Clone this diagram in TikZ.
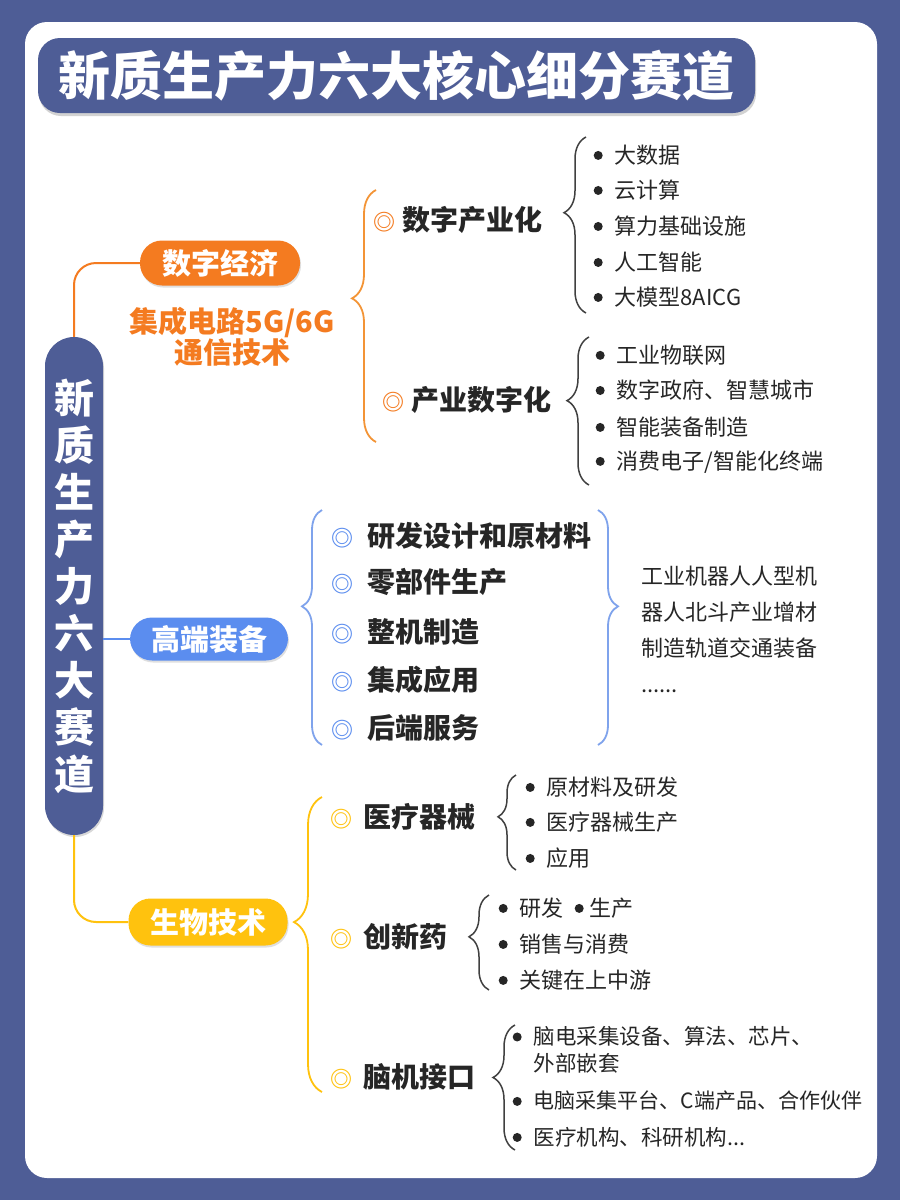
\documentclass[tikz,border=0pt]{standalone}
\usepackage{fontspec}
\setmainfont{Noto Sans CJK SC}
\usepackage{xcolor}
\usetikzlibrary{positioning,decorations.pathreplacing,shadows}

\definecolor{bgblue}{HTML}{4E5D96}
\definecolor{ecoorange}{HTML}{F47B20}
\definecolor{ecobrace}{HTML}{F39436}
\definecolor{hiblue}{HTML}{5B8DEF}
\definecolor{hibrace}{HTML}{7FA3EC}
\definecolor{bioyellow}{HTML}{FFC20E}
\definecolor{txt}{HTML}{262626}
\definecolor{darkbrace}{HTML}{404040}

\newcommand\bul[1][12pt]{\tikz[baseline={(0pt,-0.36em)}]\fill[txt] (0pt,0pt) circle (4.5pt);\hspace{#1}}
\newcommand\ring[1]{{\fontsize{22}{22}\selectfont\color{#1}◎}}

\begin{document}
\begin{tikzpicture}[x=1pt, y=-1pt, every node/.style={inner sep=0pt, text=txt},
  pill/.style={rounded corners=22pt, minimum height=45pt, minimum width=160pt, text=white, font=\bfseries\fontsize{29}{29}\selectfont, drop shadow={opacity=0.25, shadow xshift=1pt, shadow yshift=-2pt}},
  sub/.style={anchor=west, font=\bfseries\fontsize{28}{28}\selectfont},
  item/.style={anchor=west, font=\fontsize{22}{22}\selectfont},
  brc/.style={decorate, line width=1.8pt},
  link/.style={line width=2pt, rounded corners=22pt}]
\useasboundingbox (0,0) rectangle (900,1200);
\fill[bgblue] (0,0) rectangle (900,1200);
\fill[white, rounded corners=22pt] (25,22) rectangle (877,1178);

% title and root
\node[fill=bgblue, rounded corners=22pt, minimum width=717pt, minimum height=75pt, text=white, font=\bfseries\fontsize{52}{52}\selectfont, drop shadow={opacity=0.35, shadow xshift=1pt, shadow yshift=-3pt}] (title) at (396.5,75.5) {新质生产力六大核心细分赛道};
\node[fill=bgblue, rounded corners=29pt, minimum width=58pt, minimum height=498pt, text=white, align=center, font=\bfseries\fontsize{40}{47}\selectfont, drop shadow={opacity=0.3, shadow xshift=1pt, shadow yshift=-2pt}] (root) at (74,586) {新\\质\\生\\产\\力\\六\\大\\赛\\道};

% three branches
\node[pill, fill=ecoorange] (eco) at (220,263) {数字经济};
\node[pill, fill=hiblue, minimum width=158pt, minimum height=43pt] (hi) at (209,639) {高端装备};
\node[pill, fill=bioyellow, minimum width=159pt, minimum height=47pt] (bio) at (208,922) {生物技术};
\node[below=21pt of eco, xshift=12pt, text=ecoorange, align=center, font=\bfseries\fontsize{29}{31}\selectfont] (chip) {集成电路5G/6G\\通信技术};
\draw[link, ecoorange] (root.north) |- (eco.west);
\draw[link, hiblue] (hi.west -| root.east) -- (hi.west);
\draw[link, bioyellow] (root.south) |- (bio.west);

% digital economy
\coordinate (ebot) at (376,442); \coordinate (etop) at (376,190);
\draw[brc, ecobrace, decoration={brace, amplitude=24pt, aspect=0.57}] (ebot) -- (etop);
\node[sub] (digind) at (373,220) {\ring{ecoorange}\hspace{7pt}数字产业化};
\node[sub] (inddig) at (382,400) {\ring{ecoorange}\hspace{7pt}产业数字化};
\coordinate (k1bot) at (586,313); \coordinate (k1top) at (586,137);
\draw[brc, darkbrace, line width=1.5pt, decoration={brace, amplitude=22pt, aspect=0.57}] (k1bot) -- (k1top);
\node[item] (bigdata) at (593.5,155) {\bul 大数据};
\node[item] (cloud) at (593.5,190) {\bul 云计算};
\node[item] (compute) at (593.5,226) {\bul 算力基础设施};
\node[item] (ai) at (593.5,262) {\bul 人工智能};
\node[item] (aicg) at (593.5,297) {\bul 大模型8AICG};
\coordinate (k2bot) at (589,485); \coordinate (k2top) at (589,337);
\draw[brc, darkbrace, line width=1.5pt, decoration={brace, amplitude=22pt, aspect=0.57}] (k2bot) -- (k2top);
\node[item] (iot) at (595.5,355) {\bul 工业物联网};
\node[item] (city) at (595.5,390) {\bul 数字政府、智慧城市};
\node[item] (smartmfg) at (595.5,427) {\bul 智能装备制造};
\node[item] (consumer) at (595.5,462) {\bul 消费电子/智能化终端};

% high-end equipment
\coordinate (hbot) at (322,745); \coordinate (htop) at (322,510);
\draw[brc, hibrace, decoration={brace, amplitude=20pt, aspect=0.59}] (hbot) -- (htop);
\node[sub] (rd) at (331,536) {\ring{hiblue}\hspace{14pt}研发设计和原材料};
\node[sub] (parts) at (331,582) {\ring{hiblue}\hspace{14pt}零部件生产};
\node[sub] (whole) at (331,632) {\ring{hiblue}\hspace{14pt}整机制造};
\node[sub] (integ) at (331,680) {\ring{hiblue}\hspace{14pt}集成应用};
\node[sub] (service) at (331,728) {\ring{hiblue}\hspace{14pt}后端服务};
\coordinate (rtop) at (598,510); \coordinate (rbot) at (598,745);
\draw[brc, hibrace, decoration={brace, amplitude=20pt, aspect=0.41}] (rtop) -- (rbot);
\node[item, align=left, font=\fontsize{22}{36}\selectfont] (examples) at (641,629) {工业机器人人型机\\器人北斗产业增材\\制造轨道交通装备\\......};

% biotech
\coordinate (ybot) at (322,1092); \coordinate (ytop) at (322,797);
\draw[brc, bioyellow, decoration={brace, amplitude=28pt, aspect=0.576}] (ybot) -- (ytop);
\node[sub] (med) at (330,817) {\ring{bioyellow}\hspace{11pt}医疗器械};
\node[sub] (drug) at (330,937) {\ring{bioyellow}\hspace{11pt}创新药};
\node[sub] (bci) at (330,1077) {\ring{bioyellow}\hspace{11pt}脑机接口};
\coordinate (m1bot) at (516,870); \coordinate (m1top) at (516,775);
\draw[brc, darkbrace, line width=1.5pt, decoration={brace, amplitude=18pt, aspect=0.56}] (m1bot) -- (m1top);
\node[item] (raw) at (525.5,787) {\bul 原材料及研发};
\node[item] (medprod) at (525.5,822) {\bul 医疗器械生产};
\node[item] (apply) at (525.5,858) {\bul 应用};
\coordinate (m2bot) at (489,990); \coordinate (m2top) at (489,895);
\draw[brc, darkbrace, line width=1.5pt, decoration={brace, amplitude=20pt, aspect=0.56}] (m2bot) -- (m2top);
\node[item] (drugrd) at (498.5,908) {\bul 研发\hspace{11pt}\bul[6pt]生产};
\node[item] (sales) at (498.5,944) {\bul 销售与消费};
\node[item] (stream) at (498.5,980) {\bul 关键在上中游};
\coordinate (m3bot) at (515,1150); \coordinate (m3top) at (515,1025);
\draw[brc, darkbrace, line width=1.5pt, decoration={brace, amplitude=22pt, aspect=0.58}] (m3bot) -- (m3top);
\node[item, align=left, font=\fontsize{21.5}{27}\selectfont] (eeg) at (512.5,1050) {\bul 脑电采集设备、算法、芯片、\\\hspace*{21pt}外部嵌套};
\node[item, font=\fontsize{21}{21}\selectfont] (platform) at (512.5,1101) {\bul 电脑采集平台、C端产品、合作伙伴};
\node[item, font=\fontsize{21.5}{21.5}\selectfont] (inst) at (512.5,1137) {\bul 医疗机构、科研机构...};
\end{tikzpicture}
\end{document}
